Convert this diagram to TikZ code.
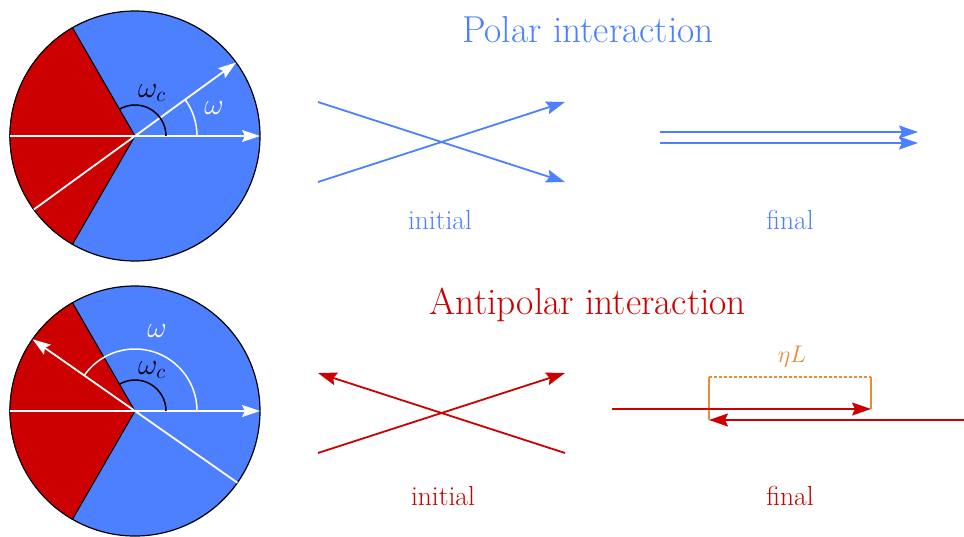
\RequirePackage{fix-cm}
\documentclass[tikz,border=0pt]{standalone}
\usetikzlibrary{arrows.meta}
\definecolor{pblue}{RGB}{77,128,255}
\definecolor{pred}{RGB}{204,0,0}
\definecolor{porange}{RGB}{232,140,60}
\tikzset{
  disc/.style={fill=pblue,draw=black,line width=1.2pt},
  redsec/.style={fill=pred,draw=black,line width=1pt},
  wline/.style={white,line width=1.8pt},
  warrow/.style={white,line width=1.8pt,-{Stealth[length=18pt,width=12pt,inset=3pt]}},
  barrow/.style={pblue,line width=1.8pt,-{Stealth[length=19pt,width=13pt,inset=3pt]}},
  rarrow/.style={pred,line width=1.8pt,-{Stealth[length=19pt,width=13pt,inset=3pt]}},
  obox/.style={porange,line width=1.3pt},
  title/.style={font=\fontsize{37.5}{45}\selectfont},
  lab/.style={font=\fontsize{27.5}{33}\selectfont},
  mathlab/.style={font=\fontsize{30}{36}\selectfont},
  etalab/.style={font=\fontsize{24}{29}\selectfont},
}
\begin{document}
\begin{tikzpicture}[x=1pt,y=-1pt]
\useasboundingbox (0,0) rectangle (964,536);
% ---------- top circle ----------
\begin{scope}[shift={(135,136)},yscale=-1]
  \coordinate (c1) at (0,0);
  \filldraw[disc] (c1) circle[radius=125];
  \filldraw[redsec] (c1) -- (120:125) arc[start angle=120,end angle=240,radius=125] -- cycle;
  \coordinate (t0) at (0:125);
  \coordinate (t180) at (180:125);
  \coordinate (t36) at (36:125);
  \coordinate (t216) at (216:125);
  \draw[wline] (t180) -- (c1);
  \draw[warrow] (c1) -- (t0);
  \draw[wline] (t216) -- (c1);
  \draw[warrow] (c1) -- (t36);
  \draw[white,line width=1.5pt] (62,0) arc[start angle=0,end angle=36,radius=62];
  \draw[black,line width=1.5pt] (31,0) arc[start angle=0,end angle=120,radius=31];
\end{scope}
\node[mathlab] (wc1) at (152,93) {$\omega_c$};
\node[mathlab,text=white] (w1) at (214,108) {$\omega$};
% ---------- bottom circle ----------
\begin{scope}[shift={(135,411)},yscale=-1]
  \coordinate (c2) at (0,0);
  \filldraw[disc] (c2) circle[radius=125];
  \filldraw[redsec] (c2) -- (120:125) arc[start angle=120,end angle=240,radius=125] -- cycle;
  \coordinate (b0) at (0:125);
  \coordinate (b180) at (180:125);
  \coordinate (b145) at (145:125);
  \coordinate (bm35) at (-35:125);
  \draw[wline] (b180) -- (c2);
  \draw[warrow] (c2) -- (b0);
  \draw[wline] (bm35) -- (c2);
  \draw[warrow] (c2) -- (b145);
  \draw[white,line width=1.5pt] (62,0) arc[start angle=0,end angle=145,radius=62];
  \draw[black,line width=1.5pt] (31,0) arc[start angle=0,end angle=120,radius=31];
\end{scope}
\node[mathlab] (wc2) at (152,370) {$\omega_c$};
\node[mathlab,text=white] (w2) at (157,331) {$\omega$};
% ---------- polar ----------
\node[title,text=pblue] (ptitle) at (588,30) {Polar interaction};
\coordinate (pa1) at (318,102); \coordinate (pa2) at (565,182);
\coordinate (pb1) at (318,182); \coordinate (pb2) at (565,102);
\draw[barrow] (pa1) -- (pa2);
\draw[barrow] (pb1) -- (pb2);
\node[lab,text=pblue] (pinit) at (440,220) {initial};
\coordinate (pf1) at (660,132); \coordinate (pf2) at (918,132);
\coordinate (pg1) at (660,143); \coordinate (pg2) at (918,143);
\draw[barrow] (pf1) -- (pf2);
\draw[barrow] (pg1) -- (pg2);
\node[lab,text=pblue] (pfin) at (790,220) {final};
% ---------- antipolar ----------
\node[title,text=pred] (atitle) at (588,305) {Antipolar interaction};
\coordinate (aa1) at (565,453); \coordinate (aa2) at (318,373);
\coordinate (ab1) at (318,453); \coordinate (ab2) at (565,373);
\draw[rarrow] (aa1) -- (aa2);
\draw[rarrow] (ab1) -- (ab2);
\node[lab,text=pred] (ainit) at (443,496) {initial};
\coordinate (af1) at (612,409); \coordinate (af2) at (871,409);
\coordinate (ag1) at (964,420); \coordinate (ag2) at (709,420);
\coordinate (bx1) at (709,377); \coordinate (bx2) at (871,377);
\draw[obox] (ag2) -- (bx1);
\draw[obox] (af2) -- (bx2);
\draw[obox,dash pattern=on 3pt off 2pt] (bx1) -- (bx2);
\draw[rarrow] (af1) -- (af2);
\draw[rarrow] (ag1) -- (ag2);
\node[etalab,text=porange] (eta) at (792,357) {$\eta L$};
\node[lab,text=pred] (afin) at (790,496) {final};
\end{tikzpicture}
\end{document}
